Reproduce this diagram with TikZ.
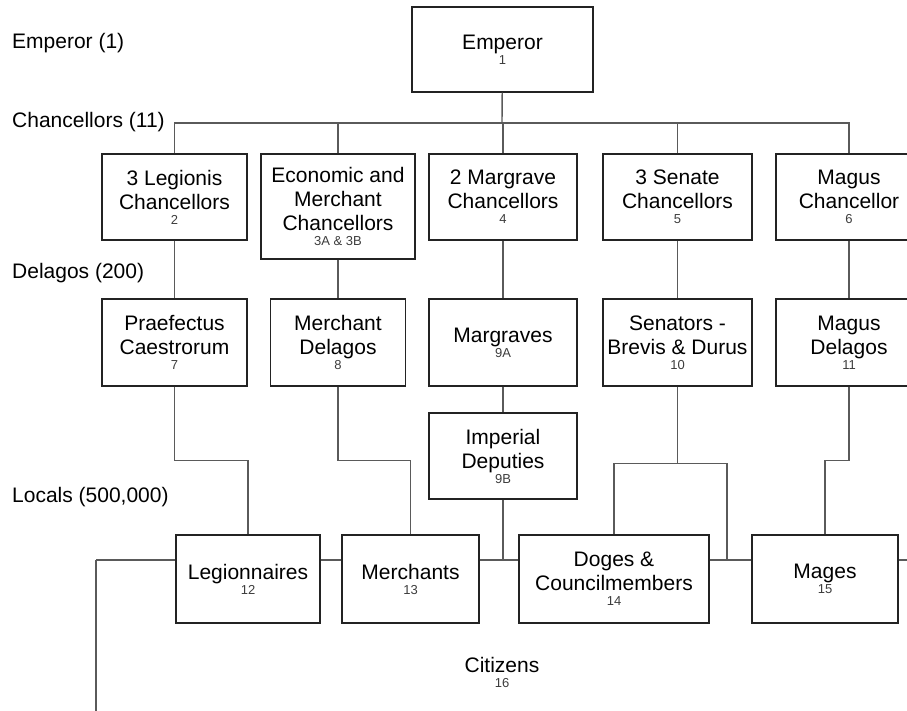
\documentclass[tikz,border=0pt]{standalone}
\usepackage{fontspec}
\setmainfont{Liberation Sans}
\usepackage{xcolor}
\usepackage{tikz}
\usetikzlibrary{positioning}
\definecolor{linegray}{RGB}{90,90,90}
\definecolor{boxline}{RGB}{35,35,35}
\definecolor{numgray}{RGB}{60,60,60}
\newcommand{\rankno}[1]{{\fontsize{13}{14}\selectfont\color{numgray}#1}}
\tikzset{
	rankbox/.style={rectangle, draw=boxline, line width=1.2pt, align=center, inner sep=2pt, font=\fontsize{21}{24}\selectfont},
	tierlabel/.style={anchor=west, inner sep=0pt, font=\fontsize{21}{24}\selectfont},
	conn/.style={draw=linegray, line width=1.4pt}
}

\begin{document}
\begin{tikzpicture}[x=1pt, y=-1pt]
		\useasboundingbox (0,0) rectangle (907,711);
		\clip (0,0) rectangle (907,711);
		%tiers
		\node[tierlabel] at (12,43) (tEmp)   {Emperor (1)};
		\node[tierlabel] at (12,122) (tChan) {Chancellors (11)};
		\node[tierlabel] at (12,273) (tDel)  {Delagos (200)};
		\node[tierlabel] at (12,497) (tLoc)  {Locals (500,000)};
		
		\node[rankbox, minimum width=181, minimum height=85] at (502.5,49.5) (emp) {Emperor\\[-9pt]\rankno{1}};
		
		\node[rankbox, minimum width=145, minimum height=86] at (174.5,197) (c2)  {3 Legionis\\Chancellors\\[-9pt]\rankno{2}};
		\node[rankbox, minimum width=154, minimum height=105] at (338,206.5) (c3) {Economic and\\Merchant\\Chancellors\\[-9pt]\rankno{3A \& 3B}};
		\node[rankbox, minimum width=148, minimum height=86] at (503,197) (c4)    {2 Margrave\\Chancellors\\[-9pt]\rankno{4}};
		\node[rankbox, minimum width=149, minimum height=86] at (677.5,197) (c5)  {3 Senate\\Chancellors\\[-9pt]\rankno{5}};
		\node[rankbox, minimum width=146, minimum height=86] at (849,197) (c6)    {Magus\\Chancellor\\[-9pt]\rankno{6}};
		
		\node[rankbox, minimum width=145, minimum height=87] at (174.5,342.5) (d7) {Praefectus\\Caestrorum\\[-9pt]\rankno{7}};
		\node[rankbox, minimum width=135, minimum height=87] at (338,342.5) (d8)   {Merchant\\Delagos\\[-9pt]\rankno{8}};
		\node[rankbox, minimum width=148, minimum height=87] at (503,342.5) (d9a)  {Margraves\\[-9pt]\rankno{9A}};
		\node[rankbox, minimum width=149, minimum height=87] at (677.5,342.5) (d10) {Senators -\\Brevis \& Durus\\[-9pt]\rankno{10}};
		\node[rankbox, minimum width=146, minimum height=87] at (849,342.5) (d11)  {Magus\\Delagos\\[-9pt]\rankno{11}};
		\node[rankbox, minimum width=148, minimum height=86] at (503,456) (d9b)    {Imperial\\Deputies\\[-9pt]\rankno{9B}};
		
		\node[rankbox, minimum width=144, minimum height=88] at (248,579) (l12)   {Legionnaires\\[-9pt]\rankno{12}};
		\node[rankbox, minimum width=137, minimum height=88] at (410.5,579) (l13) {Merchants\\[-9pt]\rankno{13}};
		\node[rankbox, minimum width=190, minimum height=88] at (614,579) (l14)   {Doges \&\\Councilmembers\\[-9pt]\rankno{14}};
		\node[rankbox, minimum width=146, minimum height=88] at (825,579) (l15)   {Mages\\[-9pt]\rankno{15}};
		
		\node[rankbox, draw=none] at (502,672) (cit) {Citizens\\[-9pt]\rankno{16}};
		
		%Lines
		\coordinate (split) at (502,123);
		\coordinate (citbus) at (96,560);
		\coordinate (dogejoin) at (727,560);
		\draw[conn] (emp) -- (split);
		\draw[conn] (c2) |- (split) -| (c6);
		\foreach \n in {c3,c4,c5}
			\draw[conn] (\n) -- (\n |- split);
		\foreach \a/\b in {c2/d7,c3/d8,c4/d9a,c5/d10,c6/d11,d9a/d9b}
			\draw[conn] (\a) -- (\b);
		
		\draw[conn] (d7.south) -- ++(0,74) -| (l12);
		\draw[conn] (d8.south) -- ++(0,74) -| (l13);
		\draw[conn] (d11.south) -- ++(0,74) -| (l15);
		\draw[conn] (d10.south) -- ++(0,77) coordinate (senjoin) -| (l14);
		\draw[conn] (senjoin) -| (dogejoin);
		
		%bus of the locals
		\draw[conn] (citbus) -- (citbus -| l12.west);
		\foreach \a/\b in {l12/l13,l13/l14,l14/l15}
			\draw[conn] (citbus -| \a.east) -- (citbus -| \b.west);
		\draw[conn] (citbus -| l15.east) -- ++(20,0);
		\draw[conn] (d9b) -- (d9b |- citbus);
		\draw[conn] (citbus) -- ++(0,160);
		
	\end{tikzpicture}
\end{document}
